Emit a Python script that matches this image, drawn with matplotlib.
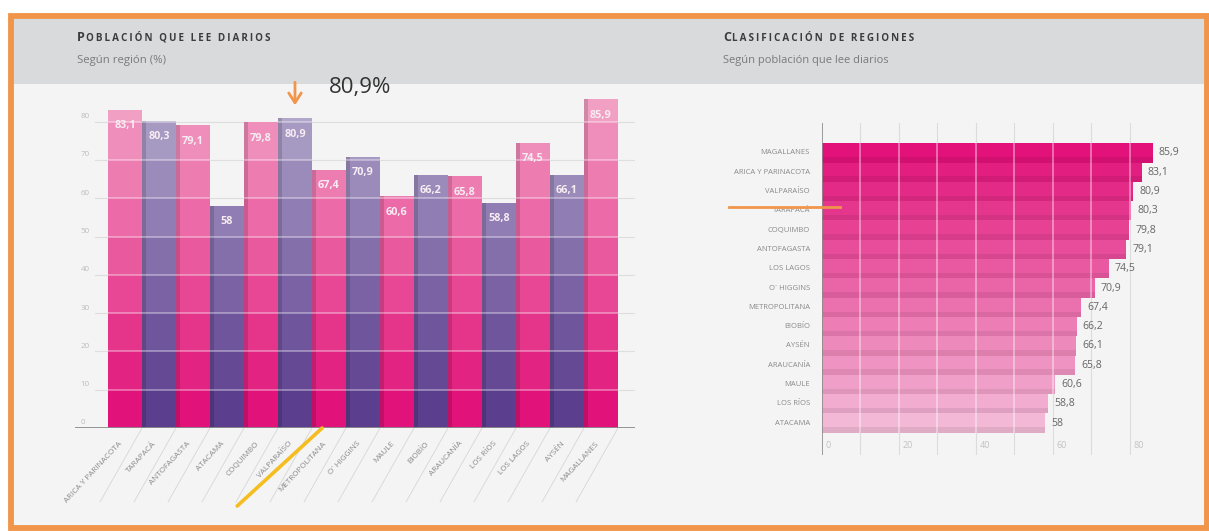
"""Población que lee diarios — barras por región + clasificación ordenada."""
import numpy as np
import matplotlib
matplotlib.use("Agg")
import matplotlib.pyplot as plt
from matplotlib.patches import Rectangle
from matplotlib.transforms import offset_copy, blended_transform_factory

plt.rcParams["font.family"] = ["Open Sans", "DejaVu Sans"]

# datos
regiones = ["ARICA Y PARINACOTA", "TARAPACÁ", "ANTOFAGASTA", "ATACAMA", "COQUIMBO",
            "VALPARAÍSO", "METROPOLITANA", "O´ HIGGINS", "MAULE", "BIOBÍO",
            "ARAUCANÍA", "LOS RÍOS", "LOS LAGOS", "AYSÉN", "MAGALLANES"]
lectura = [83.1, 80.3, 79.1, 58, 79.8, 80.9, 67.4, 70.9, 60.6, 66.2, 65.8, 58.8, 74.5, 66.1, 85.9]
destacada = "VALPARAÍSO"
yticks_izq = [0, 10, 20, 30, 40, 50, 60, 70, 80]
xticks_der = [0, 20, 40, 60, 80]

W, H = 1209, 531
ORANGE = "#f0954a"
PINK = ["#e1127a", "#e32382", "#e5358b", "#e74794", "#e9599d",
        "#eb6aa7", "#ed7cb0", "#ef8eba", "#f1a0c4"]
PURPLE = ["#5b3e8e", "#654995", "#6f559c", "#7a62a4", "#856fab",
          "#907db3", "#9b8bba", "#a699c2", "#b1a7ca"]
THIN = "\u2009"


def fmt(v):
    return f"{v:g}".replace(".", ",")


def spaced(s):
    # versalitas con algo de interletrado
    return THIN.join(s)


def rect_px(l, t, r, b):
    return [l / W, 1 - b / H, (r - l) / W, (b - t) / H]


fig = plt.figure(figsize=(W / 100, H / 100), dpi=100)
fig.patch.set_facecolor("white")

# fondo, cabecera y marco en pixeles
bg = fig.add_axes([0, 0, 1, 1], zorder=0)
bg.set_xlim(0, W)
bg.set_ylim(H, 0)
bg.axis("off")
bg.add_patch(Rectangle((10, 16), 1196, 512, facecolor="#f4f4f4", edgecolor="none"))
bg.add_patch(Rectangle((13, 19), 1191, 65, facecolor="#d9dadb", edgecolor="none"))
bg.add_patch(Rectangle((10.5, 16), 1196, 512, facecolor="none", edgecolor=ORANGE, lw=4.2))


def smallcaps(x, y, first, rest):
    t = bg.text(x, y, first, fontsize=9.0, weight="bold", color="#3c3c3c", va="bottom")
    bg.annotate(spaced(rest), xy=(1, 0), xycoords=t, xytext=(1, 0),
                textcoords="offset pixels", va="bottom", ha="left",
                fontsize=7.1, weight="bold", color="#3c3c3c")


smallcaps(77, 44, "P", "OBLACIÓN QUE LEE DIARIOS")
bg.text(77, 60, "Según región (%)", fontsize=8.2, color="#7a7a7a", va="center")
smallcaps(723, 44, "C", "LASIFICACIÓN DE REGIONES")
bg.text(723, 60, "Según población que lee diarios", fontsize=8.0, color="#7a7a7a", va="center")

# ---------- izquierda: barras verticales ----------
ax = fig.add_axes(rect_px(75, 80, 635, 428), zorder=1)
ax.set_facecolor("none")
x = np.arange(len(regiones))
vals = np.array(lectura, dtype=float)
ax.set_xlim(-1.47, 15.0)
ax.set_ylim(0, 90.9)
for s in ax.spines.values():
    s.set_visible(False)
ax.set_xticks([])
ax.set_yticks([])

ytr = blended_transform_factory(ax.transAxes, ax.transData)
for v in yticks_izq[1:]:
    ax.axhline(v, xmin=0.035, xmax=1, color="#dedede", lw=0.8, zorder=0)
for v in yticks_izq:
    ax.text(0.01, v + 0.4, str(v), transform=ytr, fontsize=5.8, color="#bdbdbd",
            va="bottom", ha="left")

is_pink = x % 2 == 0
for k in range(9):
    h = np.clip(vals - 10 * k, 0, 10)
    cols = [PINK[k] if p else PURPLE[k] for p in is_pink]
    ax.bar(x, h, bottom=10 * k, width=1.0, color=cols, lw=0, zorder=2)
# franja oscura en el borde izquierdo
ax.bar(x[1:] - 0.44, vals[1:], width=0.12, color="black", alpha=0.14, lw=0, zorder=2.5)
for i, v in enumerate(vals):
    lv = [l for l in yticks_izq[1:] if l < v]
    ax.hlines(lv, i - 0.5, i + 0.5, colors="white", alpha=0.45, lw=1.1, zorder=3)
    ax.annotate(fmt(v), xy=(i, v), xytext=(0, -16), textcoords="offset pixels",
                ha="center", va="center", fontsize=7.8, weight="bold",
                color="#f8ecf3", zorder=4)
ax.axhline(0, color="#8c8c8c", lw=1.3, zorder=4)

# etiquetas inclinadas y guías
for i, r in enumerate(regiones):
    ax.annotate("", xy=(i + 0.5, 0), xytext=(-42, -74), textcoords="offset pixels",
                arrowprops=dict(arrowstyle="-", color="#d6d6d6", lw=0.6,
                                shrinkA=0, shrinkB=0), annotation_clip=False)
    ax.annotate(r, xy=(i, 0), xytext=(-6, -12), textcoords="offset pixels",
                rotation=47, rotation_mode="anchor", ha="right", va="top",
                fontsize=5.9, color="#8a8a8a", annotation_clip=False)

# resaltado de la región
j = regiones.index(destacada)
vj = vals[j]
head = offset_copy(ax.transData, fig=fig, x=0, y=13, units="dots")
ax.annotate("", xy=(j, vj), xycoords=head, xytext=(0, 23), textcoords="offset pixels",
            arrowprops=dict(arrowstyle="->,head_length=0.7,head_width=0.45",
                            color=ORANGE, lw=2.0, shrinkA=0, shrinkB=0),
            annotation_clip=False)
ax.annotate(fmt(vj) + "%", xy=(j, vj), xytext=(34, 31), textcoords="offset pixels",
            ha="left", va="center", fontsize=16, color="#333333", annotation_clip=False)
ax.annotate("", xy=(j + 1 - 0.2, 0), xytext=(-85, -78), textcoords="offset pixels",
            arrowprops=dict(arrowstyle="-", color="#f5bd1f", lw=2.6,
                            shrinkA=0, shrinkB=0, capstyle="round"),
            annotation_clip=False, zorder=5)

# ---------- derecha: clasificación ----------
orden = np.argsort(-vals, kind="stable")
reg_ord = [regiones[i] for i in orden]
val_ord = vals[orden]
n = len(val_ord)

bx = fig.add_axes(rect_px(822, 123, 1180, 455), zorder=1)
bx.set_facecolor("none")
bx.set_xlim(0, 93)
bx.set_ylim(15.65, -1.55)
for s in bx.spines.values():
    s.set_visible(False)
bx.set_xticks([])
bx.set_yticks([])

c0 = np.array([0xe2, 0x12, 0x7a]) / 255
c1 = np.array([0xf2, 0xb8, 0xd5]) / 255
grad = [tuple(c0 + (c1 - c0) * t) for t in np.linspace(0, 1, n)]

for v in range(10, 90, 10):
    bx.axvline(v, color="#dcdcdc", lw=0.8, zorder=0)
y = np.arange(n)
bx.barh(y, val_ord, height=1.0, color=grad, lw=0, zorder=2)
bx.barh(y + 0.36, val_ord, height=0.28, color="black", alpha=0.07, lw=0, zorder=2.5)
for i, v in enumerate(val_ord):
    lv = [l for l in range(10, 90, 10) if l < v]
    bx.vlines(lv, i - 0.5, i + 0.5, colors="white", alpha=0.5, lw=1.1, zorder=3)
    bx.annotate(fmt(v), xy=(v, i), xytext=(6, 0), textcoords="offset pixels",
                ha="left", va="center", fontsize=7.6, color="#666666")
    bx.annotate(reg_ord[i], xy=(0, i), xytext=(-12, 0), textcoords="offset pixels",
                ha="right", va="center", fontsize=5.5, color="#8a8a8a",
                annotation_clip=False)
for v in xticks_der:
    bx.annotate(str(v), xy=(v, 15.15), xytext=(4, 0), textcoords="offset pixels",
                ha="left", va="center", fontsize=6.5, color="#c2c2c2")
bx.axvline(0, color="#8c8c8c", lw=1.2, zorder=4)

k = reg_ord.index(destacada)
xtr = blended_transform_factory(bx.transAxes, bx.transData)
bx.plot([-0.26, 0.05], [k + 0.8, k + 0.8], transform=xtr, color=ORANGE, lw=2.0,
        clip_on=False, zorder=5)

fig.savefig("out.png", dpi=100)
